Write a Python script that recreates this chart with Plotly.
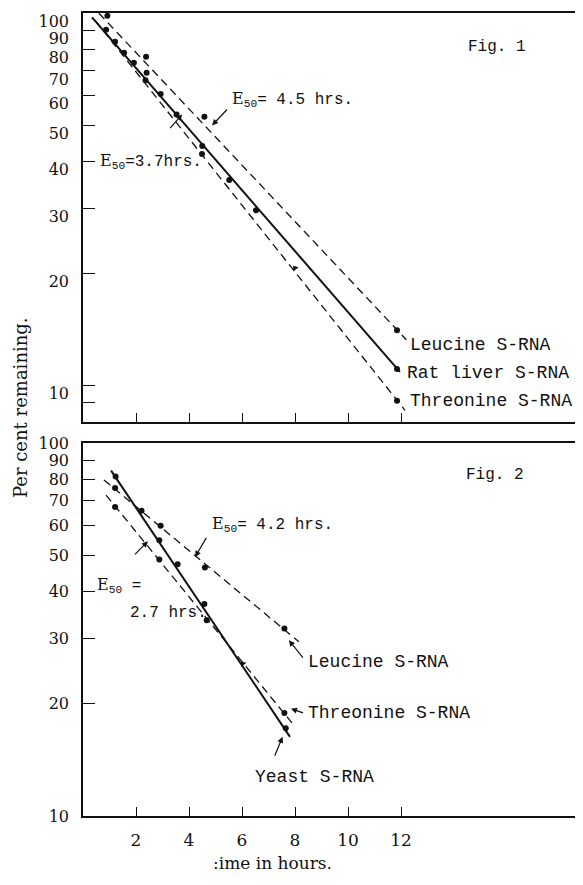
import math
import plotly.graph_objects as go

# ---------------- data ----------------
# Fig. 1  (time in hours, per cent remaining)
f1_leu_t = [0.92, 2.38, 4.58, 11.85]
f1_leu_p = [98.4, 76.4, 52.7, 14.1]
f1_rat_t = [0.87, 1.21, 1.55, 1.92, 2.36, 2.40, 2.93, 3.53, 4.50, 5.52, 6.53, 11.85]
f1_rat_p = [90.3, 83.8, 78.3, 73.6, 66.1, 69.2, 60.7, 53.5, 44.0, 35.7, 29.6, 11.1]
f1_thr_t = [4.49, 11.85]
f1_thr_p = [41.9, 9.12]
f1_thr_mark_t = [8.0]
f1_thr_mark_p = [20.7]
# fitted lines (start, end)
f1_leu_fit_t = [0.6, 12.2]
f1_leu_fit_p = [100.0, 13.3]
f1_rat_fit_t = [0.34, 11.96]
f1_rat_fit_p = [97.4, 10.9]
f1_thr_fit_t = [0.45, 12.15]
f1_thr_fit_p = [95.8, 8.6]

# Fig. 2
f2_yst_t = [1.23, 2.21, 2.88, 3.57, 4.58, 7.65]
f2_yst_p = [81.3, 65.8, 54.9, 47.3, 37.0, 17.2]
f2_leu_t = [1.21, 2.93, 4.60, 7.60]
f2_leu_p = [75.7, 60.0, 46.4, 31.8]
f2_thr_t = [1.21, 2.88, 4.67, 7.60]
f2_thr_p = [67.4, 48.7, 33.5, 18.9]
f2_thr_mark_t = [6.03]
f2_thr_mark_p = [25.6]
f2_yst_fit_t = [1.06, 7.81]
f2_yst_fit_p = [84.3, 16.3]
f2_leu_fit_t = [0.79, 8.15]
f2_leu_fit_p = [79.6, 29.3]
f2_thr_fit_t = [0.87, 7.96]
f2_thr_fit_p = [72.5, 17.5]

# axis ticks
x_ticks = [2, 4, 6, 8, 10, 12]
x_tick_text = ["2", "4", "6", "8", "10", "12"]
y1_ticks = [9, 10, 20, 30, 40, 50, 60, 70, 80, 90, 100]
y1_tick_text = ["", "10", "20", "30", "40", "50", "60", "70", "80", "90", "100"]
y2_ticks = [10, 20, 30, 40, 50, 60, 70, 80, 90, 100]
y2_tick_text = ["10", "20", "30", "40", "50", "60", "70", "80", "90", "100"]

# ---------------- styling ----------------
SERIF = "DejaVu Serif"
LETTER = "Liberation Mono"
INK = "#111111"
OFF = 8                       # page body margin of the browser
W, H = 583 - OFF, 885 - OFF
ML, MR, MT = 83 - OFF, 0, 13 - OFF
MB = H - (816 - OFF)
PH = H - MT - MB
PW = W - ML - MR

def py(page_y):               # page pixel -> paper fraction
    return (H - MB - (page_y - OFF)) / PH

def px(page_x):
    return (page_x - OFF - ML) / PW

top_dom = [py(422), 1.0]
bot_dom = [0.0, py(443)]
XMAX = PW / 26.5

fig = go.Figure()

def add_line(t, p, xa, ya, dash, width):
    fig.add_trace(go.Scatter(x=t, y=p, mode="lines", xaxis=xa, yaxis=ya,
                             line=dict(color=INK, width=width, dash=dash),
                             showlegend=False, hoverinfo="skip"))

def add_pts(t, p, xa, ya, symbol="circle", size=6, angle=0):
    fig.add_trace(go.Scatter(x=t, y=p, mode="markers", xaxis=xa, yaxis=ya,
                             marker=dict(color=INK, size=size, symbol=symbol, angle=angle),
                             showlegend=False))

DASH = "8px,5px"
# Fig 1
add_line(f1_leu_fit_t, f1_leu_fit_p, "x", "y", DASH, 1.3)
add_line(f1_rat_fit_t, f1_rat_fit_p, "x", "y", "solid", 2.0)
add_line(f1_thr_fit_t, f1_thr_fit_p, "x", "y", DASH, 1.3)
add_pts(f1_leu_t, f1_leu_p, "x", "y")
add_pts(f1_rat_t, f1_rat_p, "x", "y")
add_pts(f1_thr_t, f1_thr_p, "x", "y")
add_pts(f1_thr_mark_t, f1_thr_mark_p, "x", "y", "triangle-up", 6, -38)
# Fig 2
add_line(f2_leu_fit_t, f2_leu_fit_p, "x2", "y2", DASH, 1.3)
add_line(f2_thr_fit_t, f2_thr_fit_p, "x2", "y2", DASH, 1.3)
add_line(f2_yst_fit_t, f2_yst_fit_p, "x2", "y2", "solid", 2.0)
add_pts(f2_yst_t, f2_yst_p, "x2", "y2")
add_pts(f2_leu_t, f2_leu_p, "x2", "y2")
add_pts(f2_thr_t, f2_thr_p, "x2", "y2")
add_pts(f2_thr_mark_t, f2_thr_mark_p, "x2", "y2", "triangle-up", 6, -40)

L = math.log10
ann = []

def text(x, y, s, xref, yref, size=17, font=LETTER, xanchor="left"):
    ann.append(dict(x=x, y=L(y), xref=xref, yref=yref, text=s, showarrow=False,
                    xanchor=xanchor, yanchor="middle",
                    font=dict(family=font, size=size, color=INK)))

def arrow(x, y, ax, ay, xref, yref):
    ann.append(dict(x=x, y=L(y), xref=xref, yref=yref, text=" ", showarrow=True,
                    ax=ax, ay=ay, arrowhead=2, arrowsize=1, arrowwidth=1.2,
                    arrowcolor=INK, font=dict(size=2)))

E50 = "<span style='font-family:DejaVu Serif'>E</span><sub>50</sub>"
# Fig 1 texts
text(5.55, 58.5, E50 + "= 4.5 hrs.", "x", "y", 16)
arrow(4.87, 50.0, 17, -18, "x", "y")
text(0.57, 39.9, E50 + "=3.7hrs.", "x", "y", 16)
text(15.62, 81.1, "Fig. 1", "x", "y", 16, xanchor="center")
text(12.26, 12.9, "Leucine S-RNA", "x", "y", 18)
text(12.15, 10.8, "Rat liver S-RNA", "x", "y", 18)
text(12.26, 9.12, "Threonine S-RNA", "x", "y", 18)
arrow(3.74, 53.5, -14, 16, "x", "y")
# Fig 2 texts
text(4.79, 60.4, E50 + "= 4.2 hrs.", "x2", "y2", 16)
arrow(4.23, 49.5, 13, -22, "x2", "y2")
text(0.45, 41.6, E50 + " =", "x2", "y2", 16)
text(1.70, 35.0, "2.7 hrs.", "x2", "y2", 16)
arrow(2.45, 54.5, -15, 15, "x2", "y2")
text(15.55, 82.0, "Fig. 2", "x2", "y2", 16, xanchor="center")
text(8.42, 25.9, "Leucine S-RNA", "x2", "y2", 18)
text(8.42, 18.9, "Threonine S-RNA", "x2", "y2", 18)
text(6.42, 12.7, "Yeast S-RNA", "x2", "y2", 18)
arrow(7.77, 29.6, 16, 20, "x2", "y2")
arrow(7.85, 19.4, 14, 5, "x2", "y2")
arrow(7.53, 16.3, -9, 22, "x2", "y2")

# axis titles
ann.append(dict(x=px(20), y=py(408), xref="paper", yref="paper",
                xanchor="center", yanchor="middle",
                text="Per cent remaining.", showarrow=False, textangle=-90,
                font=dict(family=SERIF, size=18, color=INK)))
ann.append(dict(x=px(272), y=py(863), xref="paper", yref="paper",
                xanchor="center", yanchor="middle",
                text=":ime in hours.", showarrow=False,
                font=dict(family=SERIF, size=17, color=INK)))

xcommon = dict(domain=[0, 1], range=[0, XMAX], showline=True, mirror=True,
               linecolor=INK, linewidth=1.5, ticks="inside", ticklen=9, tickwidth=1.3,
               tickcolor=INK, tickvals=x_ticks, ticktext=x_tick_text,
               showgrid=False, zeroline=False, automargin=False,
               tickfont=dict(family=SERIF, size=17, color=INK))
ycommon = dict(type="log", showline=True, linecolor=INK, linewidth=1.5,
               ticks="inside", ticklen=12, tickwidth=1.3, tickcolor=INK,
               showgrid=False, zeroline=False, ticklabelstandoff=9, automargin=False,
               ticklabeloverflow="allow",
               tickfont=dict(family=SERIF, size=16, color=INK))

fig.update_layout(
    width=W, height=H, paper_bgcolor="white", plot_bgcolor="white",
    margin=dict(l=ML, r=MR, t=MT, b=MB, autoexpand=False),
    xaxis=dict(xcommon, anchor="y", showticklabels=False),
    yaxis=dict(ycommon, domain=top_dom, anchor="x", range=[L(8.0), 2.0005],
               tickvals=y1_ticks, ticktext=y1_tick_text, ticklabelshift=8),
    xaxis2=dict(xcommon, anchor="y2", showticklabels=True, ticklabelstandoff=8),
    yaxis2=dict(ycommon, domain=bot_dom, anchor="x2", range=[1.0, 2.0],
                tickvals=y2_ticks, ticktext=y2_tick_text),
    annotations=ann,
    showlegend=False,
)

fig.write_html("out.html")
